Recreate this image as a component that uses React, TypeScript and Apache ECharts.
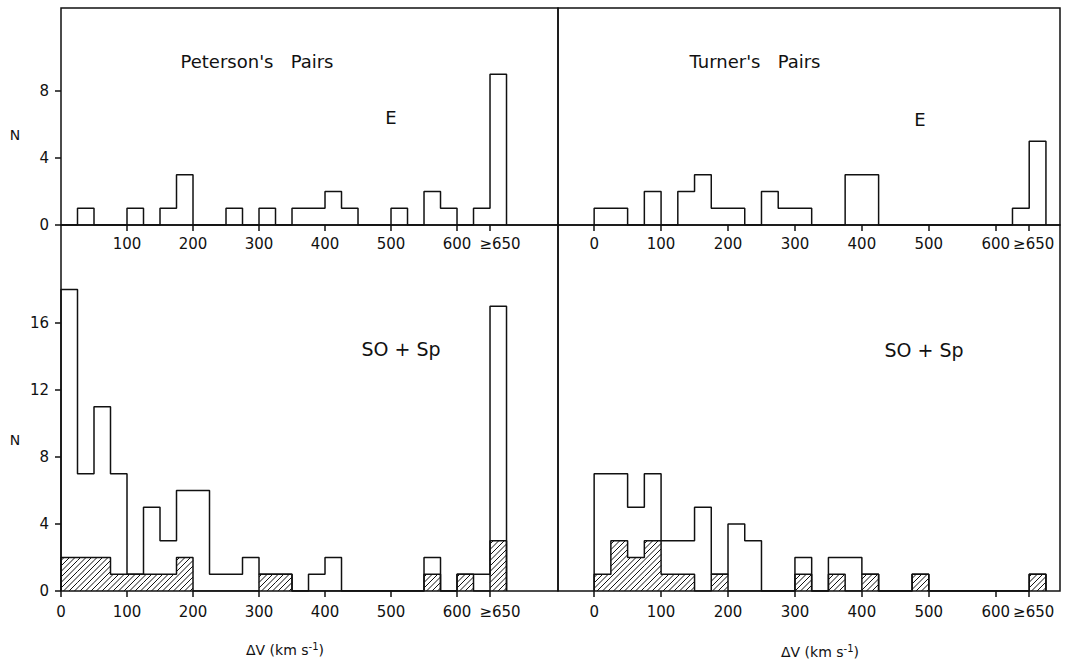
import React, { useEffect, useRef } from "react";
import * as echarts from "echarts";

// Bins are 25 km/s wide, starting at 0; the last bin (650-675) is the ">=650" bin.
const BIN_WIDTH = 25;
const petersonE = [0, 1, 0, 0, 1, 0, 1, 3, 0, 0, 1, 0, 1, 0, 1, 1, 2, 1, 0, 0, 1, 0, 2, 1, 0, 1, 9];
const turnerE = [1, 1, 0, 2, 0, 2, 3, 1, 1, 0, 2, 1, 1, 0, 0, 3, 3, 0, 0, 0, 0, 0, 0, 0, 0, 1, 5];
const petersonS = [18, 7, 11, 7, 1, 5, 3, 6, 6, 1, 1, 2, 1, 1, 0, 1, 2, 0, 0, 0, 0, 0, 2, 0, 1, 1, 17];
const petersonSHatched = [2, 2, 2, 1, 1, 1, 1, 2, 0, 0, 0, 0, 1, 1, 0, 0, 0, 0, 0, 0, 0, 0, 1, 0, 1, 0, 3];
const turnerS = [7, 7, 5, 7, 3, 3, 5, 1, 4, 3, 0, 0, 2, 0, 2, 2, 1, 0, 0, 1, 0, 0, 0, 0, 0, 0, 1];
const turnerSHatched = [1, 3, 2, 3, 1, 1, 0, 1, 0, 0, 0, 0, 1, 0, 1, 0, 1, 0, 0, 1, 0, 0, 0, 0, 0, 0, 1];

const xTicksFull = [0, 100, 200, 300, 400, 500, 600, 650];
const xTicksNoZero = [100, 200, 300, 400, 500, 600, 650];
const yTicksTop = [0, 4, 8];
const yTicksBottom = [0, 4, 8, 12, 16];

const FONT = "DejaVu Sans";
const INK = "#111";

function stepData(counts: number[]) {
  const pts: number[][] = [[0, 0]];
  counts.forEach((c, i) => pts.push([i * BIN_WIDTH, c]));
  pts.push([counts.length * BIN_WIDTH, 0]);
  return pts;
}

function hatchItems(counts: number[]) {
  const out: number[][] = [];
  counts.forEach((c, i) => {
    if (c > 0) out.push([i * BIN_WIDTH, (i + 1) * BIN_WIDTH, c]);
  });
  return out;
}

function renderHatch(params: any, api: any) {
  const x0 = api.coord([api.value(0), 0])[0];
  const x1 = api.coord([api.value(1), 0])[0];
  const yb = api.coord([api.value(0), 0])[1];
  const yt = api.coord([api.value(0), api.value(2)])[1];
  const s = 5.5;
  const children: any[] = [];
  const cStart = Math.ceil((x0 + yt) / s) * s;
  for (let c = cStart; c <= x1 + yb; c += s) {
    const xa = Math.max(x0, c - yb);
    const xb = Math.min(x1, c - yt);
    if (xb > xa) {
      children.push({
        type: "line",
        shape: { x1: xa, y1: c - xa, x2: xb, y2: c - xb },
        style: { stroke: INK, lineWidth: 1 },
      });
    }
  }
  return { type: "group", children };
}

function xAxis(gridIndex: number, min: number, max: number, ticks: number[], shift: number, margin: number) {
  return {
    type: "value",
    gridIndex,
    min,
    max,
    axisLine: { show: false },
    splitLine: { show: false },
    axisTick: { show: true, customValues: ticks, length: 6, lineStyle: { color: INK, width: 1.5 } },
    axisLabel: {
      customValues: ticks,
      fontFamily: FONT,
      fontSize: 15,
      color: INK,
      margin,
      formatter: (v: number) => (v === 650 ? "{s|≥650}" : String(v)),
      rich: { s: { fontFamily: FONT, fontSize: 15, color: INK, padding: [0, 0, 0, shift] } },
    },
  };
}

function yAxis(gridIndex: number, max: number, ticks: number[] | null) {
  return {
    type: "value",
    gridIndex,
    min: 0,
    max,
    axisLine: { show: false },
    splitLine: { show: false },
    axisTick: ticks
      ? { show: true, customValues: ticks, length: 6, lineStyle: { color: INK, width: 1.5 } }
      : { show: false },
    axisLabel: ticks
      ? { show: true, customValues: ticks, fontFamily: FONT, fontSize: 15, color: INK, margin: 12 }
      : { show: false },
  };
}

function stepSeries(counts: number[], axisIndex: number) {
  return {
    type: "line",
    step: "end",
    xAxisIndex: axisIndex,
    yAxisIndex: axisIndex,
    data: stepData(counts),
    showSymbol: false,
    symbol: "none",
    lineStyle: { color: INK, width: 1.5 },
    silent: true,
  };
}

function hatchSeries(counts: number[], axisIndex: number) {
  return {
    type: "custom",
    xAxisIndex: axisIndex,
    yAxisIndex: axisIndex,
    renderItem: renderHatch,
    encode: { x: [0, 1], y: 2 },
    data: hatchItems(counts),
    silent: true,
  };
}

function label(text: string, x: number, y: number, size: number) {
  return {
    type: "text",
    x,
    y,
    style: { text, fontFamily: FONT, fontSize: size, fill: INK, align: "center", verticalAlign: "middle" },
  };
}

function dvLabel(x: number, y: number) {
  return {
    type: "text",
    x,
    y,
    style: {
      text: "{a|ΔV (km s}{b|-1}{a|)}",
      align: "center",
      verticalAlign: "middle",
      rich: {
        a: { fontFamily: FONT, fontSize: 14, fill: INK, lineHeight: 17 },
        b: { fontFamily: FONT, fontSize: 10, fill: INK, verticalAlign: "top" },
      },
    },
  };
}

export default function App() {
  const ref = useRef<HTMLDivElement>(null);
  useEffect(() => {
    if (!ref.current) return;
    const chart = echarts.init(ref.current, null, { renderer: "svg" });
    const TOP_MAX = 12.96;
    const BOT_MAX = 21.85;
    const gridStyle = { show: true, borderColor: INK, borderWidth: 1.5, backgroundColor: "transparent" };
    chart.setOption({
      animation: false,
      backgroundColor: "#fff",
      grid: [
        { left: 61, top: 8, width: 497, height: 217, ...gridStyle },
        { left: 558, top: 8, width: 502, height: 217, ...gridStyle },
        { left: 61, top: 225, width: 497, height: 366, ...gridStyle },
        { left: 558, top: 225, width: 502, height: 366, ...gridStyle },
      ],
      xAxis: [
        xAxis(0, 0, 753, xTicksNoZero, 20, 11),
        xAxis(1, -54, 696, xTicksFull, 9, 11),
        xAxis(2, 0, 753, xTicksFull, 20, 13),
        xAxis(3, -54, 696, xTicksFull, 9, 13),
      ],
      yAxis: [yAxis(0, TOP_MAX, yTicksTop), yAxis(1, TOP_MAX, null), yAxis(2, BOT_MAX, yTicksBottom), yAxis(3, BOT_MAX, null)],
      series: [
        stepSeries(petersonE, 0),
        stepSeries(turnerE, 1),
        stepSeries(petersonS, 2),
        stepSeries(petersonSHatched, 2),
        hatchSeries(petersonSHatched, 2),
        stepSeries(turnerS, 3),
        stepSeries(turnerSHatched, 3),
        hatchSeries(turnerSHatched, 3),
      ],
      graphic: [
        label("Peterson's   Pairs", 257, 61, 18),
        label("Turner's   Pairs", 755, 61, 18),
        label("E", 391, 117, 18),
        label("E", 920, 119, 18),
        label("SO + Sp", 401, 349, 19),
        label("SO + Sp", 924, 350, 19),
        label("N", 15, 135, 14),
        label("N", 15, 440, 14),
        dvLabel(285, 650),
        dvLabel(820, 652),
      ],
    });
    return () => chart.dispose();
  }, []);
  return (
    <div
      ref={ref}
      style={{ position: "absolute", left: 0, top: 0, width: 1065, height: 661, background: "#fff" }}
    />
  );
}
